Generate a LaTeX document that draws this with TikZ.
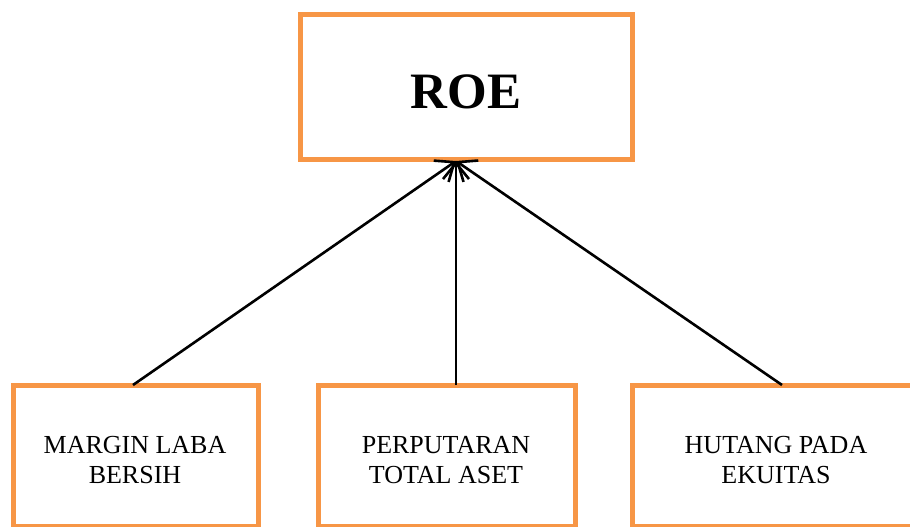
\documentclass[tikz,border=0pt]{standalone}
\usepackage{fontspec}
\setmainfont{Liberation Serif}
\usetikzlibrary{arrows.meta}
\definecolor{boxorange}{HTML}{F79646}
\tikzset{
  obox/.style={draw=boxorange, line width=5pt, fill=white, inner sep=0pt},
  smalltxt/.style={font=\fontsize{26}{30}\selectfont, align=center, anchor=base, inner sep=0pt},
  link/.style={line width=2.6pt, -{Straight Barb[length=16pt,width=26pt,line width=2.6pt]}}
}
\begin{document}
\begin{tikzpicture}[x=1pt,y=-1pt]
\useasboundingbox (0,0) rectangle (910,527);
\clip (0,0) rectangle (910,527);
\fill[white] (0,0) rectangle (910,527);
% boxes
\node[obox, minimum width=332pt, minimum height=144pt] (roe) at (466,87) {};
\node[obox, minimum width=245pt, minimum height=141pt] (lbox) at (135.5,455.5) {};
\node[obox, minimum width=257pt, minimum height=141pt] (mbox) at (446.5,455.5) {};
\node[obox, minimum width=300pt, minimum height=141pt] (rbox) at (782,455.5) {};
% texts
\node[font=\fontsize{51}{55}\selectfont\bfseries, anchor=base, inner sep=0pt] (roetxt) at (466,108) {ROE};
\node[smalltxt] (ltxt1) at (135,453) {MARGIN LABA};
\node[smalltxt] (ltxt2) at (135,483) {BERSIH};
\node[smalltxt] (mtxt1) at (446,453) {PERPUTARAN};
\node[smalltxt] (mtxt2) at (446,483) {TOTAL ASET};
\node[smalltxt] (rtxt1) at (776,453) {HUTANG PADA};
\node[smalltxt] (rtxt2) at (776,483) {EKUITAS};
% connectors
\coordinate (tip) at (456,161);
\coordinate (lstart) at (133,385);
\coordinate (mstart) at (456,385);
\coordinate (rstart) at (782,385);
\draw[link] (lstart) -- (tip);
\draw[link] (mstart) -- (tip);
\draw[link] (rstart) -- (tip);
\end{tikzpicture}
\end{document}
